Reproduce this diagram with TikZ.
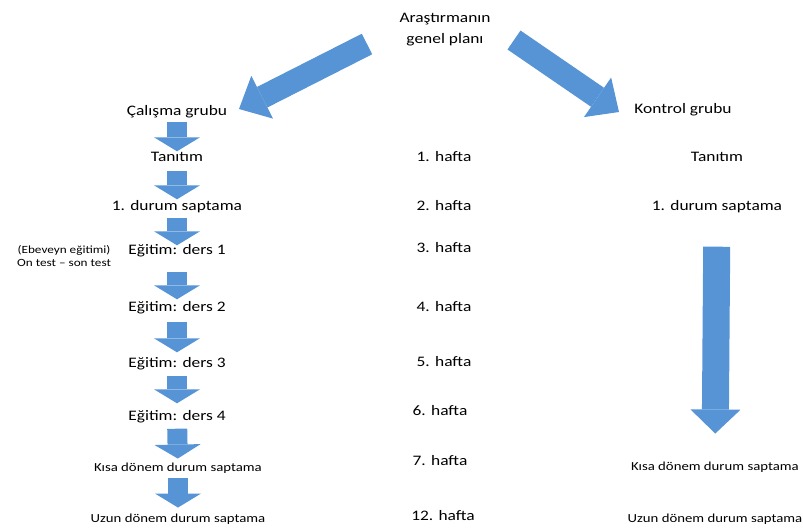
\documentclass[tikz,border=0pt]{standalone}
\usepackage{fontspec}
\setmainfont[FakeStretch=1.2]{Carlito}
\usepackage{xcolor}
\usetikzlibrary{arrows.meta, positioning}
\definecolor{planblue}{RGB}{86,148,214}

\begin{document}
\begin{tikzpicture}[
        x=1pt, y=-1pt,
        txt/.style={inner sep=2pt, text height=10pt, text depth=3pt,
                    font=\fontsize{14.5}{17}\selectfont},
        small/.style={inner sep=2pt, text height=8pt, text depth=2.5pt,
                      font=\fontsize{12.3}{14}\selectfont},
        note/.style={align=center, inner sep=1pt, font=\fontsize{11}{13.5}\selectfont},
        downarr/.style={draw=planblue, line width=20pt,
                        -{Triangle[length=14pt, width=46pt, line width=0pt]}},
        bigarr/.style={draw=planblue, line width=23pt,
                       -{Triangle[length=26pt, width=48pt, line width=0pt]}},
        longarr/.style={draw=planblue, line width=27pt, shorten <=31pt, shorten >=27pt,
                        -{Triangle[length=24pt, width=50pt, line width=0pt]}},
    ]
        \useasboundingbox (0,0) rectangle (803,531);

        % Title
        \node[align=center, inner sep=2pt, font=\fontsize{14.5}{21}\selectfont] (plan) at (445,30)
            {Araştırmanın\\genel planı};
        \coordinate (lt) at (367,44);
        \coordinate (lh) at (239,109);
        \coordinate (rt) at (514,40);
        \coordinate (rh) at (619,112);

        % Study group column
        \node[txt] (cal) at (177,112) {Çalışma grubu};
        \node[txt] (tan) at (177,158) {Tanıtım};
        \node[txt] (dur) at (177,207) {1. durum saptama};
        \node[txt] (e1) at (177,251) {Eğitim: ders 1};
        \node[txt] (e2) at (177,308) {Eğitim: ders 2};
        \node[txt] (e3) at (177,364) {Eğitim: ders 3};
        \node[txt] (e4) at (177,417) {Eğitim: ders 4};
        \node[small] (kisa) at (178,469) {Kısa dönem durum saptama};
        \node[small] (uzun) at (178,520) {Uzun dönem durum saptama};
        \node[note, left=14pt of e1, yshift=-5pt] (ebe) {(Ebeveyn eğitimi)\\On test – son test};

        % Weeks
        \node[txt] (h1) at (444,158) {1. hafta};
        \node[txt] (h2) at (444,207) {2. hafta};
        \node[txt] (h3) at (444,249) {3. hafta};
        \node[txt] (h4) at (444,308) {4. hafta};
        \node[txt] (h5) at (444,363) {5. hafta};
        \node[txt] (h6) at (440,412) {6. hafta};
        \node[txt] (h7) at (440,462) {7. hafta};
        \node[txt] (h12) at (443,517) {12. hafta};

        % Control group column
        \node[txt] (kon) at (683,110) {Kontrol grubu};
        \node[txt] (ktan) at (717,158) {Tanıtım};
        \node[txt] (kdur) at (717,207) {1. durum saptama};
        \node[small] (kkisa) at (715,468) {Kısa dönem durum saptama};
        \node[small] (kuzun) at (715,520) {Uzun dönem durum saptama};

        % Arrows
        \draw[bigarr] (lt) -- (lh);
        \draw[bigarr] (rt) -- (rh);
        \draw[downarr, shorten <=1pt, shorten >=-2pt] (cal) -- (tan);
        \draw[downarr, shorten <=4pt, shorten >=-1pt] (tan) -- (dur);
        \draw[downarr, shorten <=2pt, shorten >=-3pt] (dur) -- (e1);
        \draw[downarr, shorten <=12pt] (e1) -- (e2);
        \draw[downarr, shorten <=5pt, shorten >=3pt] (e2) -- (e3);
        \draw[downarr, shorten <=3pt, shorten >=5pt] (e3) -- (e4);
        \draw[downarr, shorten <=3pt, shorten >=3pt] (e4) -- (kisa);
        \draw[downarr, shorten <=2pt, shorten >=5pt] (kisa) -- (uzun);
        \draw[longarr] (kdur) -- (kkisa);
\end{tikzpicture}
\end{document}
